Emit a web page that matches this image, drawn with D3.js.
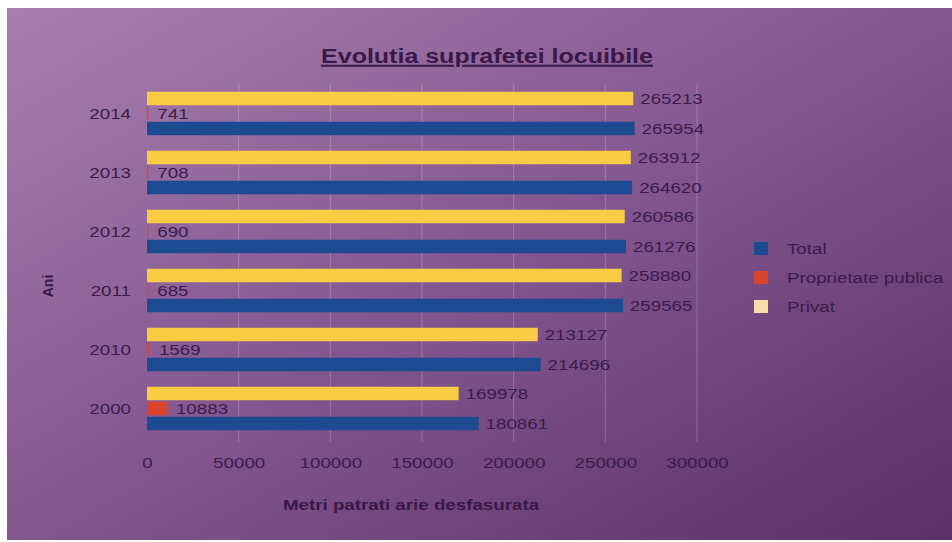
<!DOCTYPE html>
<html>
<head>
<meta charset="utf-8">
<script src="https://cdn.jsdelivr.net/npm/d3@7"></script>
<style>
html,body{margin:0;padding:0;background:#fff;}
svg{display:block;font-family:"Liberation Sans",Arial,sans-serif;}
</style>
</head>
<body>
<svg id="chart" width="952" height="542"></svg>
<script>
// ---- data ----
const years = ["2000", "2010", "2011", "2012", "2013", "2014"];
const totalValues = [180861, 214696, 259565, 261276, 264620, 265954];
const publicValues = [10883, 1569, 685, 690, 708, 741];
const privateValues = [169978, 213127, 258880, 260586, 263912, 265213];
const seriesNames = ["Total", "Proprietate publica", "Privat"];
const xTicks = [0, 50000, 100000, 150000, 200000, 250000, 300000];
const titleText = "Evolutia suprafetei locuibile";
const xTitle = "Metri patrati arie desfasurata";
const yTitle = "Ani";

const colors = {"Total": "#1d4b92", "Proprietate publica": "#d8452c", "Privat": "#f8cc43"};
const textColor = "#3d1b4a";
const SX = 1.25; // horizontal stretch of the text in the original picture

const svg = d3.select("#chart");
const W = 952, H = 542;

function stretch(sel) {
  sel.each(function() {
    const t = d3.select(this);
    const tx = +t.attr("x") || 0, ty = +t.attr("y") || 0;
    const prev = t.attr("transform") || "";
    t.attr("x", 0).attr("y", 0)
     .attr("transform", `${prev} translate(${tx},${ty}) scale(${SX},1)`);
  });
}

// background gradient
const defs = svg.append("defs");
const bg = defs.append("linearGradient").attr("id", "bg")
  .attr("x1", "0").attr("y1", "0").attr("x2", "1").attr("y2", "1");
bg.append("stop").attr("offset", "0").attr("stop-color", "#a87fae");
bg.append("stop").attr("offset", "0.5").attr("stop-color", "#83568f");
bg.append("stop").attr("offset", "1").attr("stop-color", "#5a3065");
svg.append("rect").attr("x", 7).attr("y", 8).attr("width", W - 7).attr("height", H - 10)
  .attr("fill", "url(#bg)");

const rows = years.map((y, i) => ({
  year: y,
  values: [
    {name: "Total", v: totalValues[i]},
    {name: "Proprietate publica", v: publicValues[i]},
    {name: "Privat", v: privateValues[i]}
  ]
}));

const x = d3.scaleLinear().domain([0, 300000]).range([147, 697]);
const y = d3.scaleBand().domain(years.slice().reverse()).range([84, 438]).paddingInner(0);
const sub = d3.scaleBand().domain(seriesNames.slice().reverse()).range([7, y.bandwidth() - 7]).paddingInner(0.1).paddingOuter(0.05);

// gridlines
svg.append("g").selectAll("line").data(xTicks.slice(1)).join("line")
  .attr("x1", d => x(d)).attr("x2", d => x(d))
  .attr("y1", 84).attr("y2", 442)
  .attr("stroke", "rgba(255,255,255,0.22)").attr("stroke-width", 1);

// bars
const g = svg.append("g");
const groups = g.selectAll("g.row").data(rows).join("g")
  .attr("class", "row")
  .attr("transform", d => `translate(0,${y(d.year)})`);

groups.selectAll("rect").data(d => d.values).join("rect")
  .attr("x", x(0))
  .attr("y", d => sub(d.name))
  .attr("width", d => Math.max(0, x(d.v) - x(0)))
  .attr("height", sub.bandwidth())
  .attr("fill", d => colors[d.name]);

groups.selectAll("text").data(d => d.values).join("text")
  .attr("x", d => x(d.v) + (d.name === "Proprietate publica" ? 9 : 7))
  .attr("y", d => sub(d.name) + sub.bandwidth() / 2 + 5)
  .attr("font-size", 15)
  .attr("fill", textColor)
  .text(d => d.v)
  .call(stretch);

// x axis tick labels
const xAxis = d3.axisBottom(x).tickValues(xTicks).tickFormat(d3.format("d")).tickSize(0).tickPadding(0);
const xa = svg.append("g").attr("transform", "translate(0,457)").call(xAxis);
xa.select(".domain").remove();
xa.selectAll("text").attr("font-size", 15).attr("fill", textColor)
  .attr("font-family", "Liberation Sans, Arial, sans-serif")
  .attr("dy", null).attr("y", 11).call(stretch);

// y axis labels
const yAxis = d3.axisLeft(y).tickSize(0).tickPadding(0);
const ya = svg.append("g").attr("transform", "translate(131,0)").call(yAxis);
ya.select(".domain").remove();
ya.selectAll("text").attr("font-size", 15).attr("fill", textColor)
  .attr("font-family", "Liberation Sans, Arial, sans-serif")
  .attr("dy", null).attr("y", 5).call(stretch);

// titles
svg.append("text").attr("x", 487).attr("y", 63).attr("text-anchor", "middle")
  .attr("font-size", 20).attr("font-weight", "bold").attr("fill", "#3a1848")
  .attr("text-decoration", "underline")
  .text(titleText).call(stretch);

svg.append("text").attr("x", 411).attr("y", 510).attr("text-anchor", "middle")
  .attr("font-size", 15).attr("font-weight", "bold").attr("fill", "#3a1848")
  .text(xTitle).call(stretch);

svg.append("text").attr("transform", "translate(53,286) rotate(-90)").attr("text-anchor", "middle")
  .attr("font-size", 14).attr("font-weight", "bold").attr("fill", "#3a1848")
  .text(yTitle);

// legend
const legend = svg.append("g").attr("transform", "translate(754,242)");
const li = legend.selectAll("g").data(seriesNames).join("g")
  .attr("transform", (d, i) => `translate(0,${i * 29})`);
li.append("rect").attr("width", 14).attr("height", 13)
  .attr("fill", d => d === "Privat" ? "#f9dca8" : colors[d]);
li.append("text").attr("x", 33).attr("y", 12)
  .attr("font-size", 15).attr("fill", textColor).text(d => d).call(stretch);
</script>
</body>
</html>
